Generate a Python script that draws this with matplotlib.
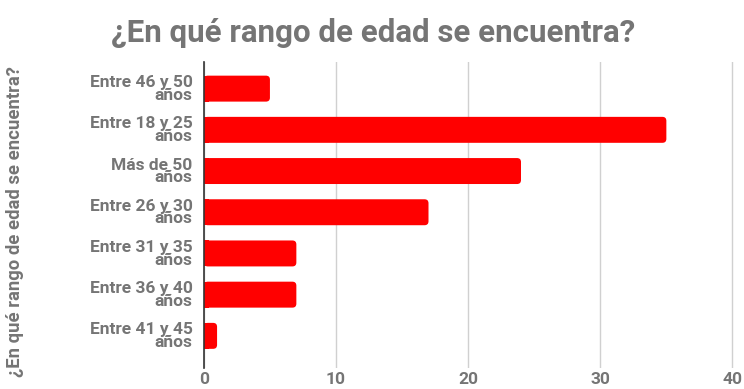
import matplotlib.pyplot as plt
from matplotlib.patches import FancyBboxPatch

# rangos de edad, de arriba hacia abajo
rangos = ['Entre 46 y 50\naños', 'Entre 18 y 25\naños', 'Más de 50\naños',
          'Entre 26 y 30\naños', 'Entre 31 y 35\naños', 'Entre 36 y 40\naños',
          'Entre 41 y 45\naños']
conteos = [5, 35, 24, 17, 7, 7, 1]
ticks_x = [0, 10, 20, 30, 40]

gris = '#757575'
rojo = '#ff0000'
plt.rcParams['font.family'] = ['Roboto', 'DejaVu Sans']

fig = plt.figure(figsize=(7.44, 3.89), dpi=100)
ax = fig.add_axes([0.274, 0.054, 0.714, 0.787])

pos = list(range(len(rangos)))
bars = ax.barh(pos, conteos, height=0.63, color=rojo)

# extremo derecho redondeado: se reemplaza cada barra por una caja redondeada
for b in bars:
    x, y = b.get_x(), b.get_y()
    w, h = b.get_width(), b.get_height()
    b.set_visible(False)
    ax.add_patch(FancyBboxPatch((x, y), w, h,
                                boxstyle='round,pad=0,rounding_size=0.3',
                                mutation_aspect=0.32,
                                facecolor=rojo, edgecolor='none'))
    ax.add_patch(plt.Rectangle((x, y), min(w, 0.4), h,
                               facecolor=rojo, edgecolor='none'))

ax.set_xlim(0, 40.2)
ax.set_ylim(6.78, -0.65)
ax.set_xticks(ticks_x)
ax.set_yticks(pos)
ax.set_yticklabels(rangos, fontsize=12.5, fontweight='bold', color=gris,
                   linespacing=0.8)
ax.tick_params(axis='y', length=0, pad=8)
ax.tick_params(axis='x', length=0, pad=3, labelsize=12.5, labelcolor=gris)
for t in ax.get_xticklabels():
    t.set_fontweight('bold')

ax.grid(axis='x', color='#d0d0d0', linewidth=1)
ax.set_axisbelow(True)
for s in ['top', 'right', 'bottom']:
    ax.spines[s].set_visible(False)
ax.spines['left'].set_color('#333333')
ax.spines['left'].set_linewidth(1.2)

fig.text(0.02, 0.43, '¿En qué rango de edad se encuentra?', rotation=90,
         ha='center', va='center', fontsize=13.3, fontweight='bold', color=gris)
fig.suptitle('¿En qué rango de edad se encuentra?', x=0.502, y=0.955,
             fontsize=22.5, fontweight='bold', color=gris)

fig.savefig('out.png', dpi=100)
